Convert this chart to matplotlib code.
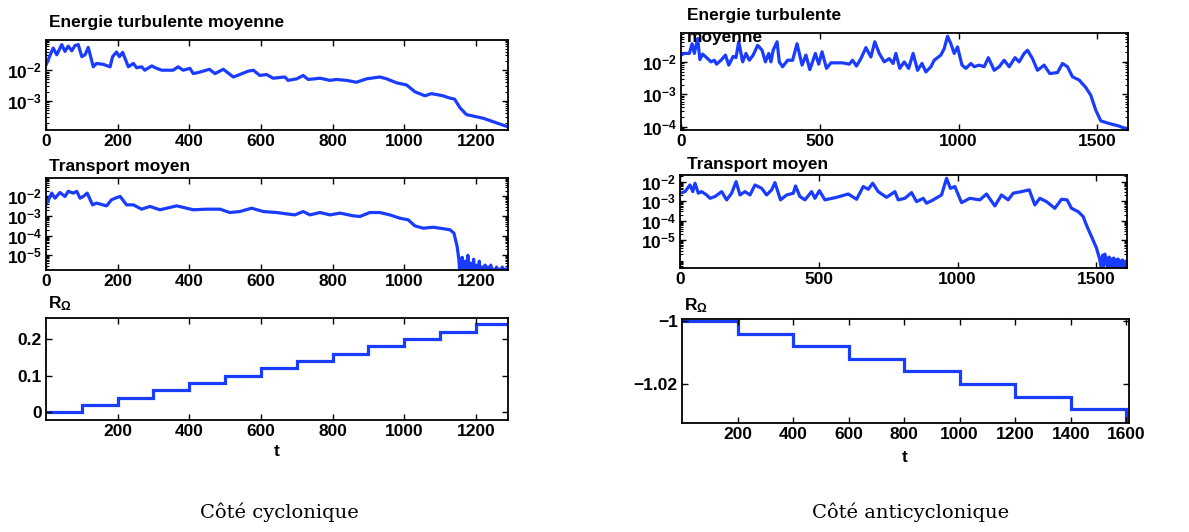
import numpy as np
import matplotlib
matplotlib.use('Agg')
import matplotlib.pyplot as plt
from matplotlib.ticker import FixedLocator, LogLocator, NullFormatter, FuncFormatter

plt.rcParams['font.family'] = ['Liberation Sans', 'DejaVu Sans']
plt.rcParams['font.weight'] = 'bold'
plt.rcParams['mathtext.fontset'] = 'custom'
plt.rcParams['mathtext.rm'] = 'Liberation Sans:bold'
plt.rcParams['mathtext.it'] = 'Liberation Sans:bold'
plt.rcParams['mathtext.bf'] = 'Liberation Sans:bold'
plt.rcParams['mathtext.default'] = 'rm'

# ---- data (log10 of the quantity) ----
# cyclonic side
t_energy_cyc = [0, 20, 30, 44, 53, 62, 72, 81, 90, 100, 109, 118, 132, 141, 160, 179, 186, 197,
                205, 214, 230, 244, 253, 267, 276, 295, 309, 323, 355, 369, 383, 402, 411, 430,
                456, 472, 495, 523, 541, 565, 579, 597, 616, 634, 667, 676, 700, 718, 732, 765,
                793, 811, 839, 867, 895, 932, 951, 979, 1007, 1030, 1058, 1076, 1109, 1123,
                1141, 1156, 1174, 1221, 1288]
energy_cyc_log = [-1.83, -1.28, -1.5, -1.17, -1.39, -1.22, -1.37, -1.2, -1.17, -1.56, -1.5, -1.26,
                  -1.89, -1.78, -1.81, -1.89, -1.56, -1.41, -1.56, -1.42, -1.89, -1.78, -1.92,
                  -1.89, -2.0, -1.86, -1.94, -2.0, -2.0, -1.89, -2.0, -1.94, -2.11, -2.06, -1.97,
                  -2.11, -1.97, -2.22, -2.14, -2.03, -2.0, -2.17, -2.14, -2.26, -2.22, -2.33,
                  -2.28, -2.17, -2.3, -2.26, -2.33, -2.3, -2.33, -2.39, -2.28, -2.22, -2.28,
                  -2.41, -2.48, -2.7, -2.83, -2.76, -2.83, -2.89, -2.94, -3.22, -3.44, -3.56, -3.83]

t_transport_cyc = [0, 16, 25, 39, 53, 62, 76, 86, 95, 104, 115, 130, 141, 169, 183, 193, 207, 225,
                   244, 267, 290, 318, 365, 393, 411, 448, 486, 513, 541, 574, 607, 644, 672, 695,
                   718, 737, 765, 793, 821, 858, 877, 904, 932, 960, 988, 1011, 1030, 1053, 1081,
                   1100, 1128, 1139, 1148, 1153, 1158, 1162, 1166, 1170, 1174, 1178, 1182, 1186,
                   1190, 1194, 1198, 1202, 1206, 1210, 1214, 1218, 1222, 1226, 1230, 1234, 1238,
                   1242, 1246, 1250, 1254, 1258, 1262, 1266, 1270, 1274, 1278, 1282, 1286, 1290]
transport_cyc_log = [-2.43, -1.83, -2.09, -1.8, -2.0, -1.74, -1.83, -1.74, -2.09, -2.0, -1.83,
                     -2.43, -2.34, -2.48, -2.17, -2.09, -2.0, -2.43, -2.43, -2.65, -2.51, -2.68,
                     -2.48, -2.6, -2.68, -2.65, -2.65, -2.82, -2.77, -2.6, -2.77, -2.82, -2.89,
                     -2.94, -2.77, -2.94, -2.82, -2.94, -2.85, -2.99, -3.02, -2.82, -2.82, -2.94,
                     -3.11, -3.19, -3.5, -3.62, -3.57, -3.62, -3.7, -3.87, -4.55, -5.24, -6.5,
                     -5.1, -6.5, -5.3, -6.4, -5.0, -6.5, -5.4, -6.3, -5.2, -6.5, -5.5, -6.2,
                     -5.3, -6.5, -5.6, -6.3, -5.5, -6.5, -5.6, -6.2, -5.5, -6.5, -5.7, -6.3,
                     -5.6, -6.4, -5.7, -6.5, -5.6, -6.3, -5.7, -6.5, -5.6]

r_cyc_edges = [0, 100, 200, 300, 400, 500, 600, 700, 800, 900, 1000, 1100, 1200, 1290]
r_cyc = [0, 0.02, 0.04, 0.06, 0.08, 0.10, 0.12, 0.14, 0.16, 0.18, 0.20, 0.22, 0.24]

# anticyclonic side
t_energy_anti = [0, 12, 30, 40, 48, 60, 68, 78, 96, 108, 120, 128, 144, 160, 172, 188, 198, 208,
                 222, 234, 246, 260, 276, 292, 304, 316, 324, 332, 346, 354, 366, 384, 402, 418,
                 436, 450, 464, 484, 496, 508, 524, 540, 582, 606, 618, 632, 648, 666, 684, 698,
                 714, 732, 750, 764, 774, 788, 804, 820, 836, 852, 868, 882, 900, 912, 936, 948,
                 960, 972, 984, 996, 1012, 1026, 1044, 1056, 1074, 1092, 1107, 1128, 1146, 1164,
                 1182, 1203, 1218, 1236, 1248, 1266, 1284, 1308, 1328, 1356, 1374, 1392, 1410,
                 1434, 1458, 1476, 1494, 1512, 1542, 1578, 1608]
energy_anti_log = [-1.79, -1.74, -1.74, -1.44, -1.74, -1.28, -1.93, -1.76, -1.9, -2.0, -1.95,
                   -2.07, -1.95, -1.79, -2.1, -1.83, -1.87, -1.38, -2.0, -1.74, -1.95, -1.79,
                   -1.49, -1.64, -2.0, -1.74, -2.0, -1.64, -1.38, -2.0, -2.15, -1.95, -1.95,
                   -1.44, -2.1, -1.79, -2.24, -1.74, -2.07, -1.69, -2.2, -2.03, -2.03, -2.07,
                   -1.95, -2.13, -1.9, -1.56, -1.85, -1.38, -1.74, -2.0, -1.9, -2.05, -1.74,
                   -2.2, -2.0, -2.2, -1.74, -2.26, -2.05, -2.31, -2.15, -1.95, -1.79, -1.59,
                   -1.21, -1.44, -1.74, -1.54, -2.1, -2.2, -2.05, -2.15, -2.1, -2.15, -1.87,
                   -2.26, -2.15, -1.95, -2.15, -1.87, -2.0, -1.74, -1.64, -1.9, -2.26, -2.1,
                   -2.36, -2.33, -2.05, -2.15, -2.46, -2.56, -2.79, -3.03, -3.49, -3.82, -3.9,
                   -3.98, -4.08]

t_transport_anti = [0, 18, 36, 46, 54, 66, 78, 96, 108, 126, 150, 168, 186, 202, 216, 234, 252,
                    270, 294, 312, 330, 342, 362, 384, 408, 416, 432, 450, 474, 486, 502, 522,
                    564, 606, 636, 660, 678, 694, 714, 744, 774, 786, 810, 834, 852, 876, 888,
                    912, 942, 960, 974, 990, 1014, 1044, 1080, 1104, 1134, 1158, 1182, 1200,
                    1230, 1258, 1278, 1296, 1320, 1350, 1374, 1394, 1410, 1434, 1452, 1466, 1482,
                    1500, 1512, 1518, 1522, 1526, 1530, 1534, 1538, 1542, 1546, 1550, 1554, 1558,
                    1562, 1566, 1570, 1574, 1578, 1582, 1586, 1590, 1594, 1598, 1602, 1606, 1610]
transport_anti_log = [-2.59, -2.51, -2.17, -2.51, -2.08, -2.59, -2.51, -2.68, -2.85, -2.76,
                      -2.51, -2.93, -2.59, -2.0, -2.68, -2.51, -2.68, -2.17, -2.34, -2.68,
                      -2.42, -2.05, -2.93, -2.68, -2.59, -2.22, -2.76, -2.93, -2.51, -2.85,
                      -2.46, -2.93, -2.8, -2.63, -2.9, -2.25, -2.39, -2.08, -2.51, -2.8, -2.51,
                      -2.93, -2.85, -2.56, -3.02, -2.85, -3.1, -2.93, -2.68, -1.83, -2.34,
                      -2.25, -3.07, -2.85, -2.93, -2.63, -3.24, -2.68, -2.93, -2.59, -2.51,
                      -2.42, -3.19, -2.85, -3.02, -3.36, -2.9, -2.93, -3.36, -3.53, -3.78,
                      -4.29, -4.8, -5.39, -5.98, -6.5, -5.75, -6.3, -5.7, -6.2, -5.9, -6.5,
                      -5.85, -6.3, -5.95, -6.5, -5.9, -6.3, -6.0, -6.5, -5.95, -6.4, -6.05,
                      -6.5, -6.0, -6.4, -6.1, -6.5, -6.05]

r_anti_edges = [0, 200, 400, 600, 800, 1000, 1200, 1400, 1600, 1612]
r_anti = [-1.0, -1.004, -1.008, -1.012, -1.016, -1.020, -1.024, -1.028, -1.032]

BLUE = '#1a3cff'
LW = 2.3
FS = 12.5


def exp_fmt(v, pos):
    if v <= 0:
        return ''
    return r'$10^{%d}$' % int(round(np.log10(v)))


def style_axes(ax):
    ax.tick_params(direction='in', top=True, right=True, labelsize=FS, width=1.0,
                   length=4, which='major', pad=3)
    ax.tick_params(direction='in', left=True, right=True, which='minor', length=2, width=0.8)
    for sp in ax.spines.values():
        sp.set_linewidth(1.3)


def log_panel(ax, t, vals_log, xlim, ylim_log, yticks_exp, xticks):
    ax.semilogy(t, 10.0 ** np.array(vals_log), color=BLUE, lw=LW)
    ax.set_xlim(*xlim)
    ax.set_ylim(10 ** ylim_log[0], 10 ** ylim_log[1])
    ax.yaxis.set_major_locator(FixedLocator([10.0 ** e for e in yticks_exp]))
    ax.yaxis.set_major_formatter(FuncFormatter(exp_fmt))
    ax.yaxis.set_minor_locator(LogLocator(base=10, subs=np.arange(2, 10), numticks=20))
    ax.yaxis.set_minor_formatter(NullFormatter())
    ax.set_xticks(xticks)
    style_axes(ax)


W, H = 1189, 532
fig = plt.figure(figsize=(W / 100, H / 100), dpi=100)


def add_ax(x0, y0, x1, y1):
    return fig.add_axes([x0 / W, 1 - y1 / H, (x1 - x0) / W, (y1 - y0) / H])


# left column
ax1 = add_ax(46, 40, 508, 130)
log_panel(ax1, t_energy_cyc, energy_cyc_log, (0, 1290), (-3.94, -1.02), [-3, -2],
          [0, 200, 400, 600, 800, 1000, 1200])
ax2 = add_ax(46, 178, 508, 270)
log_panel(ax2, t_transport_cyc, transport_cyc_log, (0, 1290), (-5.75, -1.06), [-5, -4, -3, -2],
          [0, 200, 400, 600, 800, 1000, 1200])
ax3 = add_ax(46, 318, 508, 420)
ax3.stairs(r_cyc, r_cyc_edges, color=BLUE, lw=LW, baseline=None)
ax3.set_xlim(0, 1290)
ax3.set_ylim(-0.021, 0.257)
ax3.set_xticks([200, 400, 600, 800, 1000, 1200])
ax3.set_yticks([0, 0.1, 0.2])
ax3.set_yticklabels(['0', '0.1', '0.2'])
style_axes(ax3)

# right column
ax4 = add_ax(681, 33, 1128, 130)
log_panel(ax4, t_energy_anti, energy_anti_log, (0, 1610), (-4.10, -1.11), [-4, -3, -2],
          [0, 500, 1000, 1500])
ax5 = add_ax(680, 175, 1127, 268)
log_panel(ax5, t_transport_anti, transport_anti_log, (0, 1610), (-6.41, -1.66), [-5, -4, -3, -2],
          [0, 500, 1000, 1500])
ax6 = add_ax(682, 319, 1129, 423)
ax6.stairs(r_anti, r_anti_edges, color=BLUE, lw=LW, baseline=None)
ax6.set_xlim(0, 1610)
ax6.set_ylim(-1.0323, -0.9994)
ax6.set_xticks([200, 400, 600, 800, 1000, 1200, 1400, 1600])
ax6.set_yticks([-1.0, -1.02])
ax6.set_yticklabels(['\u22121', '\u22121.02'])
style_axes(ax6)

# titles and labels
def ftext(x, y, s, **kw):
    fig.text(x / W, 1 - y / H, s, **kw)

ftext(49, 27, 'Energie turbulente moyenne', fontsize=FS, fontweight='bold', va='baseline')
ftext(49, 171, 'Transport moyen', fontsize=FS, fontweight='bold', va='baseline')
ftext(48, 308, r'$R_{\Omega}$', fontsize=FS, va='baseline')
ftext(277, 452, 't', fontsize=FS, fontweight='bold', ha='center', va='center')

ftext(687, 20, 'Energie turbulente', fontsize=FS, fontweight='bold', va='baseline', zorder=10)
ftext(687, 42, 'moyenne', fontsize=FS, fontweight='bold', va='baseline', zorder=10)
ftext(687, 169, 'Transport moyen', fontsize=FS, fontweight='bold', va='baseline')
ftext(684, 310, r'$R_{\Omega}$', fontsize=FS, va='baseline')
ftext(905, 457, 't', fontsize=FS, fontweight='bold', ha='center', va='center')

serif = ['DejaVu Serif', 'Liberation Serif']
ftext(200, 518, 'Côté cyclonique', fontsize=14, fontweight='normal', family=serif,
      va='baseline')
ftext(812, 518, 'Côté anticyclonique', fontsize=14, fontweight='normal', family=serif,
      va='baseline')

fig.savefig('out.png', dpi=100)
